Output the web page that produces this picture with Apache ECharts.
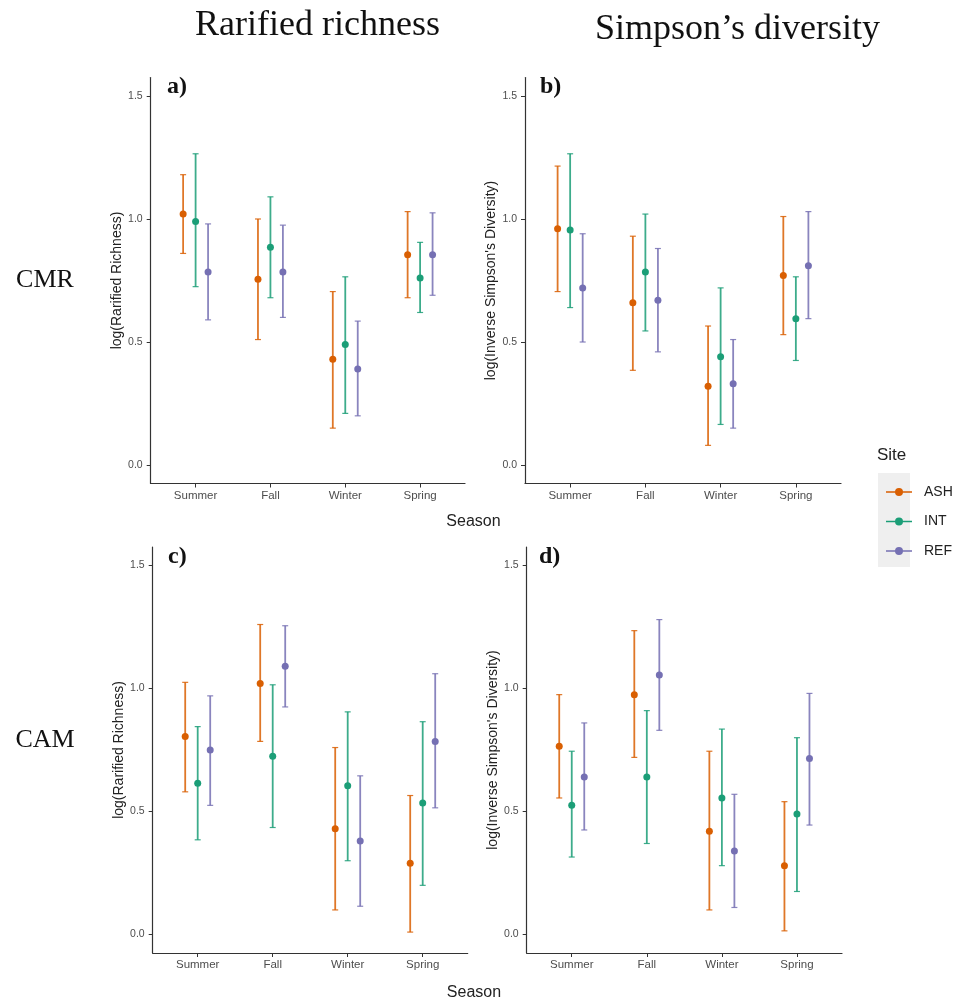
<!DOCTYPE html>
<html>
<head>
<meta charset="utf-8">
<script src="https://cdn.jsdelivr.net/npm/echarts@6/dist/echarts.min.js"></script>
<style>
html,body{margin:0;padding:0;background:#fff;}
#chart{width:953px;height:1001px;}
</style>
</head>
<body>
<div id="chart"></div>
<script>
// ---- data ----
const seasons = ['Summer', 'Fall', 'Winter', 'Spring'];
const sites = ['ASH', 'INT', 'REF'];
const yTicks = [0, 0.5, 1.0, 1.5];
const colTitles = ['Rarified richness', 'Simpson\u2019s diversity'];
const rowLabels = ['CMR', 'CAM'];
const panelLetters = ['a)', 'b)', 'c)', 'd)'];
const yNames = ['log(Rarified Richness)', 'log(Inverse Simpson\'s Diversity)', 'log(Rarified Richness)', 'log(Inverse Simpson\'s Diversity)'];

// each entry per season: [mean, lower, upper]
const rich_CMR_ASH = [[1.02, 0.86, 1.18], [0.755, 0.51, 1.00], [0.43, 0.15, 0.705], [0.855, 0.68, 1.03]];
const rich_CMR_INT = [[0.99, 0.725, 1.265], [0.885, 0.68, 1.09], [0.49, 0.21, 0.765], [0.76, 0.62, 0.905]];
const rich_CMR_REF = [[0.785, 0.59, 0.98], [0.785, 0.60, 0.975], [0.39, 0.20, 0.585], [0.855, 0.69, 1.025]];

const simp_CMR_ASH = [[0.96, 0.705, 1.215], [0.66, 0.385, 0.93], [0.32, 0.08, 0.565], [0.77, 0.53, 1.01]];
const simp_CMR_INT = [[0.955, 0.64, 1.265], [0.785, 0.545, 1.02], [0.44, 0.165, 0.72], [0.595, 0.425, 0.765]];
const simp_CMR_REF = [[0.72, 0.50, 0.94], [0.67, 0.46, 0.88], [0.33, 0.15, 0.51], [0.81, 0.595, 1.03]];

const rich_CAM_ASH = [[0.805, 0.58, 1.025], [1.02, 0.785, 1.26], [0.43, 0.10, 0.76], [0.29, 0.01, 0.565]];
const rich_CAM_INT = [[0.615, 0.385, 0.845], [0.725, 0.435, 1.015], [0.605, 0.30, 0.905], [0.535, 0.20, 0.865]];
const rich_CAM_REF = [[0.75, 0.525, 0.97], [1.09, 0.925, 1.255], [0.38, 0.115, 0.645], [0.785, 0.515, 1.06]];

const simp_CAM_ASH = [[0.765, 0.555, 0.975], [0.975, 0.72, 1.235], [0.42, 0.10, 0.745], [0.28, 0.015, 0.54]];
const simp_CAM_INT = [[0.525, 0.315, 0.745], [0.64, 0.37, 0.91], [0.555, 0.28, 0.835], [0.49, 0.175, 0.80]];
const simp_CAM_REF = [[0.64, 0.425, 0.86], [1.055, 0.83, 1.28], [0.34, 0.11, 0.57], [0.715, 0.445, 0.98]];

const panels = [
  [rich_CMR_ASH, rich_CMR_INT, rich_CMR_REF],
  [simp_CMR_ASH, simp_CMR_INT, simp_CMR_REF],
  [rich_CAM_ASH, rich_CAM_INT, rich_CAM_REF],
  [simp_CAM_ASH, simp_CAM_INT, simp_CAM_REF]
];

// ---- styling / layout ----
const colors = ['#D95F02', '#1B9E77', '#7570B3'];
const SANS = 'Liberation Sans';
const grids = [
  {left: 150.7, top: 77.5, width: 314.3, height: 406},
  {left: 525, top: 77.5, width: 316, height: 406},
  {left: 152.7, top: 547, width: 315, height: 406},
  {left: 526.7, top: 547, width: 315.3, height: 406}
];
const dodge = [-1/6, 0, 1/6];

const chart = echarts.init(document.getElementById('chart'), null, {renderer: 'canvas'});

const xAxes = [], yAxes = [], series = [];
grids.forEach((g, p) => {
  xAxes.push({
    type: 'value', gridIndex: p, min: 0.4, max: 4.6,
    axisLine: {show: true, onZero: false, lineStyle: {color: '#333', width: 1.2}},
    axisTick: {show: true, customValues: [1, 2, 3, 4], length: 4, lineStyle: {color: '#333'}},
    axisLabel: {customValues: [1, 2, 3, 4], formatter: v => seasons[Math.round(v) - 1] || '',
      color: '#4d4d4d', fontFamily: SANS, fontSize: 11.5, margin: 6},
    splitLine: {show: false}
  });
  yAxes.push({
    type: 'value', gridIndex: p, min: -0.075, max: 1.575,
    name: yNames[p], nameLocation: 'middle', nameGap: 27,
    nameTextStyle: {fontFamily: SANS, fontSize: 14, color: '#222'},
    axisLine: {show: true, onZero: false, lineStyle: {color: '#333', width: 1.2}},
    axisTick: {show: true, customValues: yTicks, length: 4, lineStyle: {color: '#333'}},
    axisLabel: {customValues: yTicks, formatter: v => v.toFixed(1),
      color: '#4d4d4d', fontFamily: SANS, fontSize: 10.5, margin: 8},
    splitLine: {show: false}
  });
  panels[p].forEach((arr, s) => {
    const errData = arr.map((d, i) => [i + 1 + dodge[s], d[1], d[2]]);
    const ptData = arr.map((d, i) => [i + 1 + dodge[s], d[0]]);
    const col = colors[s];
    series.push({
      type: 'custom', name: sites[s], xAxisIndex: p, yAxisIndex: p,
      encode: {x: 0, y: [1, 2]},
      data: errData,
      renderItem: function (params, api) {
        const x = api.value(0);
        const lo = api.coord([x, api.value(1)]);
        const hi = api.coord([x, api.value(2)]);
        const w = 3;
        const st = {stroke: col, lineWidth: 1.8, opacity: 0.85};
        const cs = {stroke: col, lineWidth: 1.2, opacity: 0.85};
        return {type: 'group', children: [
          {type: 'line', shape: {x1: lo[0], y1: lo[1], x2: hi[0], y2: hi[1]}, style: st},
          {type: 'line', shape: {x1: lo[0] - w, y1: lo[1], x2: lo[0] + w, y2: lo[1]}, style: cs},
          {type: 'line', shape: {x1: hi[0] - w, y1: hi[1], x2: hi[0] + w, y2: hi[1]}, style: cs}
        ]};
      },
      itemStyle: {color: col},
      z: 2, silent: true
    });
    series.push({
      type: 'scatter', name: sites[s], xAxisIndex: p, yAxisIndex: p,
      data: ptData, symbol: 'circle', symbolSize: 7,
      itemStyle: {color: col, opacity: 1},
      z: 3, silent: true
    });
  });
});

const iconPath = 'path://M0,3.3L26,3.3L26,4.7L0,4.7Z M9,4A4,4 0 1,1 17,4A4,4 0 1,1 9,4Z';

const graphics = [
  {type: 'text', style: {text: colTitles[0], x: 317.5, y: 26, align: 'center', verticalAlign: 'middle', font: '36px "Liberation Serif"', fill: '#111'}},
  {type: 'text', style: {text: colTitles[1], x: 737.5, y: 30, align: 'center', verticalAlign: 'middle', font: '36px "Liberation Serif"', fill: '#111'}},
  {type: 'text', style: {text: rowLabels[0], x: 45, y: 280, align: 'center', verticalAlign: 'middle', font: '26px "Liberation Serif"', fill: '#111'}},
  {type: 'text', style: {text: rowLabels[1], x: 45, y: 740, align: 'center', verticalAlign: 'middle', font: '26px "Liberation Serif"', fill: '#111'}},
  {type: 'text', style: {text: panelLetters[0], x: 167, y: 87, align: 'left', verticalAlign: 'middle', font: 'bold 24px "Liberation Serif"', fill: '#111'}},
  {type: 'text', style: {text: panelLetters[1], x: 540, y: 87, align: 'left', verticalAlign: 'middle', font: 'bold 24px "Liberation Serif"', fill: '#111'}},
  {type: 'text', style: {text: panelLetters[2], x: 168, y: 557, align: 'left', verticalAlign: 'middle', font: 'bold 24px "Liberation Serif"', fill: '#111'}},
  {type: 'text', style: {text: panelLetters[3], x: 539, y: 557, align: 'left', verticalAlign: 'middle', font: 'bold 24px "Liberation Serif"', fill: '#111'}},
  {type: 'text', style: {text: 'Season', x: 473.5, y: 522, align: 'center', verticalAlign: 'middle', font: '16px "Liberation Sans"', fill: '#222'}},
  {type: 'text', style: {text: 'Season', x: 474, y: 993, align: 'center', verticalAlign: 'middle', font: '16px "Liberation Sans"', fill: '#222'}},
  {type: 'text', style: {text: 'Site', x: 877, y: 455, align: 'left', verticalAlign: 'middle', font: '17px "Liberation Sans"', fill: '#222'}},
  {type: 'rect', z: -1, shape: {x: 878, y: 473, width: 32, height: 94}, style: {fill: '#efefef'}}
];

chart.setOption({
  animation: false,
  backgroundColor: '#fff',
  grid: grids,
  xAxis: xAxes,
  yAxis: yAxes,
  series: series,
  legend: {
    orient: 'vertical', left: 881, top: 480,
    itemWidth: 26, itemHeight: 8, itemGap: 15.5,
    selectedMode: false,
    data: sites.map(n => ({name: n, icon: iconPath})),
    textStyle: {fontFamily: SANS, fontSize: 14, color: '#222', padding: [0, 0, 0, 7]}
  },
  graphic: graphics
});
</script>
</body>
</html>
